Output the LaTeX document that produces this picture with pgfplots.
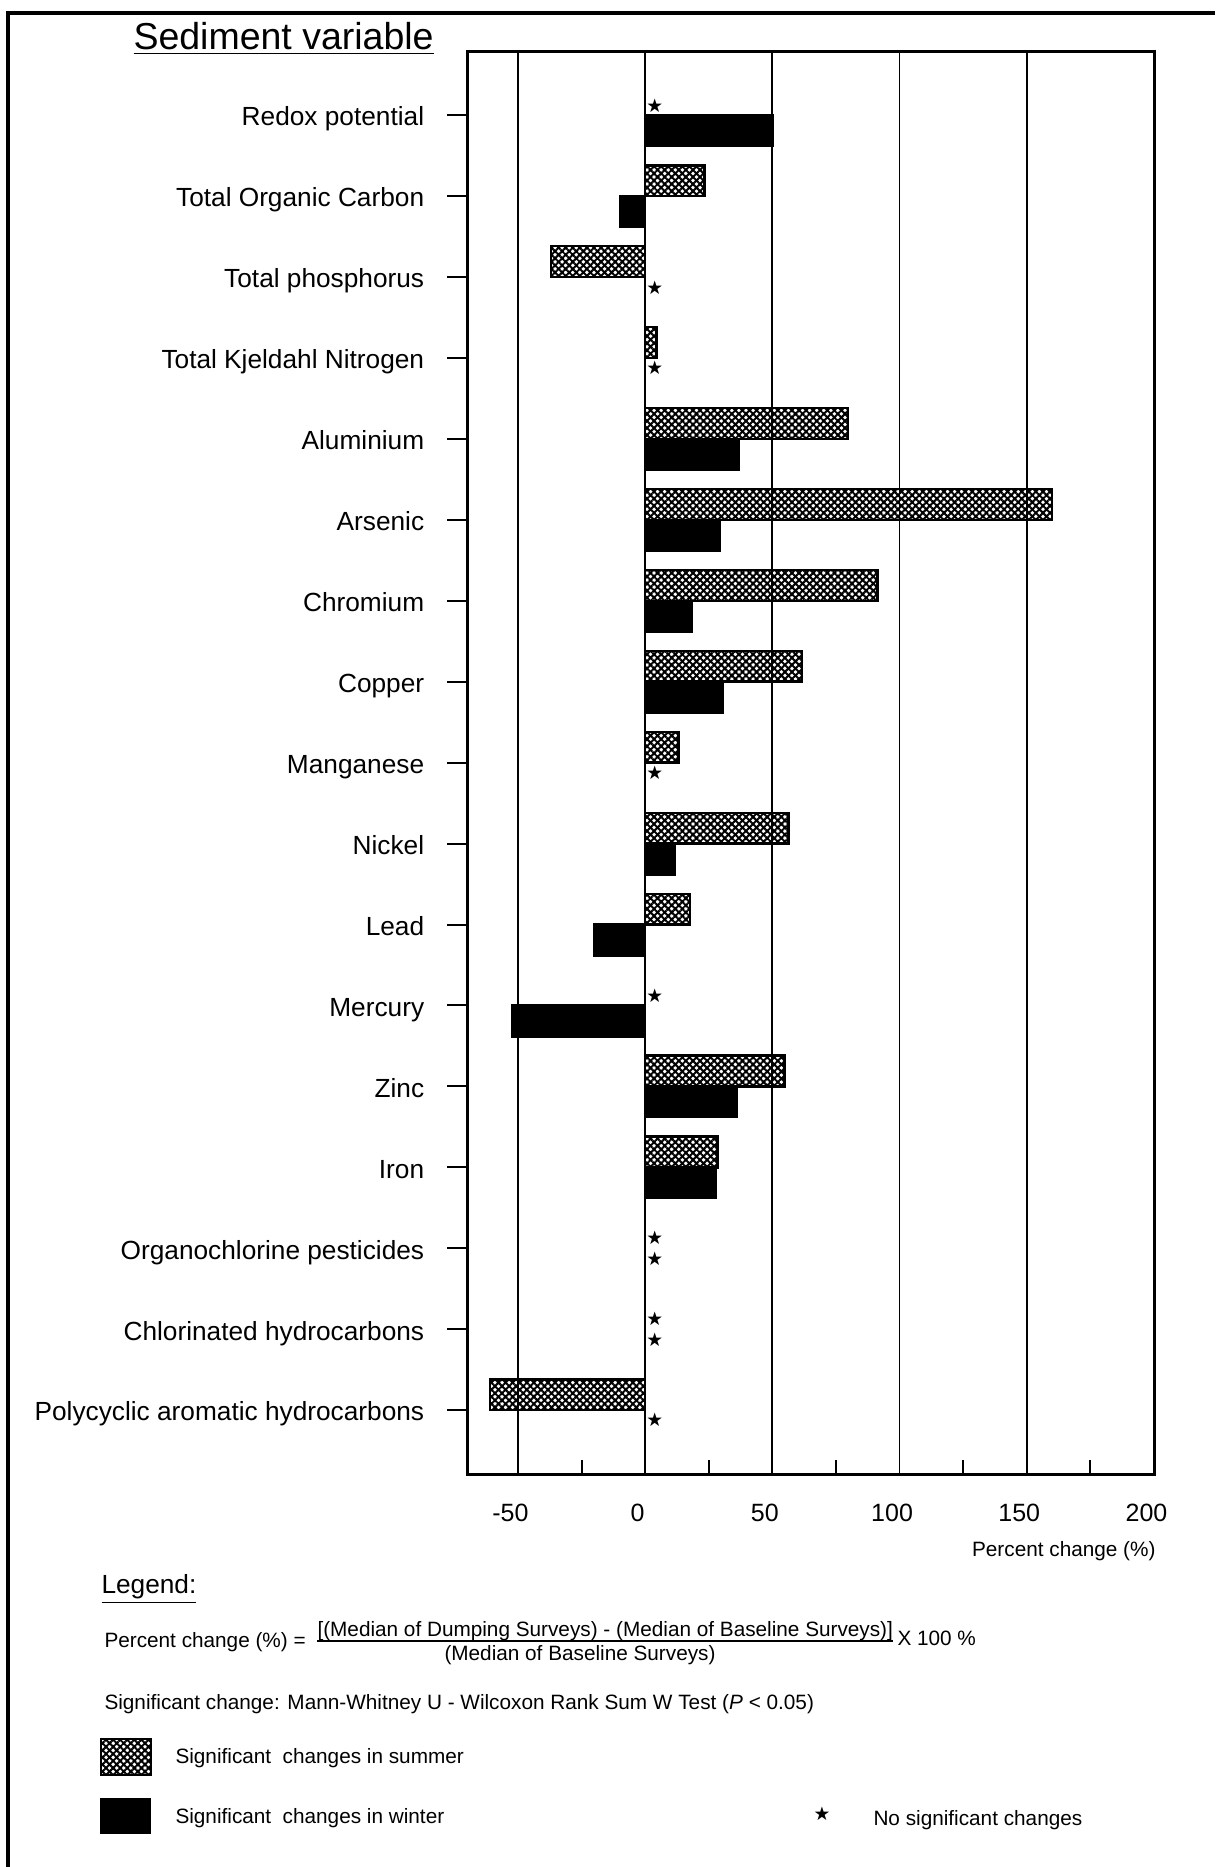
\documentclass[border=0pt]{standalone}
\usepackage{fontspec}
\setmainfont{Liberation Sans}
\newfontfamily\dejavu{DejaVu Sans}
\usepackage{pgfplots}
\pgfplotsset{compat=1.18}
\usetikzlibrary{patterns.meta}
\newcommand{\sigstar}{{\dejavu\fontsize{7.5}{7.5}\selectfont ★}}
\begin{document}
\begin{tikzpicture}[x=0.4pt,y=0.4pt]
\useasboundingbox (0,0) rectangle (1215,1867);
\draw[line width=1.6pt] (8,0) -- (8,1854) -- (1215,1854);
\begin{axis}[
  at={(186.8pt,156.8pt)}, anchor=south west,
  scale only axis, width=274.8pt, height=569.2pt,
  xbar, bar width=0.38,
  xmin=-70, xmax=200, ymin=-0.80, ymax=16.78,
  xtick={-50,0,50,100,150,200},
  minor xtick={-25,25,75,125,175},
  ytick={0,...,16},
  yticklabels={Polycyclic aromatic hydrocarbons, Chlorinated hydrocarbons, Organochlorine pesticides, Iron, Zinc, Mercury, Lead, Nickel, Manganese, Copper, Chromium, Arsenic, Aluminium, Total Kjeldahl Nitrogen, Total phosphorus, Total Organic Carbon, Redox potential},
  tick pos=left, tick align=outside,
  major tick length=8pt, minor tick length=6pt,
  every major x tick/.append style={draw=none},
  every minor x tick/.append style={black, line width=0.8pt, yshift=6pt},
  every y tick/.append style={black, line width=0.8pt},
  xmajorgrids, major grid style={black, line width=0.7pt},
  axis line style={line width=1.2pt},
  /pgf/number format/assume math mode=true,
  xticklabel style={font=\fontsize{10}{12}\selectfont, xshift=-3pt},
  yticklabel style={font=\fontsize{10.5}{12}\selectfont, anchor=base east, xshift=-5.6pt, yshift=-4.3pt},
]
\addplot[pattern={Hatch[angle=45,distance=2pt,line width=0.8pt]}, pattern color=black, draw=black, line width=1pt, bar shift=0.19]
  coordinates {(23.3,15) (-37,14) (4.5,13) (79.8,12) (159.9,11) (91.4,10) (61.7,9) (13.1,8) (56.3,7) (17.7,6) (54.7,4) (28.5,3) (-60.9,0)};
\addplot[fill=black, draw=black, line width=1pt, bar shift=-0.19]
  coordinates {(50,16) (-9.9,15) (36.7,12) (29.2,11) (18.5,10) (30.6,9) (11.6,7) (-19.8,6) (-52.1,5) (35.9,4) (27.7,3)};
\addplot[sharp plot, mark=none, black, line width=1pt, forget plot] coordinates {(0,-0.8) (0,16.78)};
% no significant change: summer (above tick) and winter (below tick)
\addplot[only marks, mark=text, text mark={\sigstar}, forget plot]
  coordinates {(3.8,16.12) (3.8,5.12) (3.8,2.13) (3.8,1.13)};
\addplot[only marks, mark=text, text mark={\sigstar}, forget plot]
  coordinates {(3.8,13.87) (3.8,12.88) (3.8,7.88) (3.8,1.87) (3.8,0.87) (3.8,-0.12)};
\end{axis}
\node[anchor=base west, inner sep=0, font=\fontsize{15}{18}\selectfont] at (133,1817) {\underline{Sediment variable}};
\node[anchor=base east, inner sep=0, font=\fontsize{8.3}{10}\selectfont] at (1156,310) {Percent change (\%)};
\begin{scope}[every node/.style={anchor=base west, inner sep=0, font=\fontsize{8.3}{10}\selectfont}]
\node[font=\fontsize{10.5}{12}\selectfont] at (101,273) {\underline{Legend:}};
\node at (104,219) {Percent change (\%) =};
\node at (317,230) {[(Median of Dumping Surveys) - (Median of Baseline Surveys)]};
\node at (444,206) {(Median of Baseline Surveys)};
\node at (897,221) {X 100 \%};
\node at (104,157) {Significant change: Mann-Whitney U - Wilcoxon Rank Sum W Test (\textit{P} < 0.05)};
\node at (175,103) {Significant\ \ changes in summer};
\node at (175,44) {Significant\ \ changes in winter};
\node at (873,42) {No significant changes};
\end{scope}
\draw[line width=0.6pt] (317,226) -- (893,226);
\draw[pattern={Hatch[angle=45,distance=2pt,line width=0.8pt]}, pattern color=black, line width=1pt] (101,92) rectangle (151,128);
\fill[black] (100,33) rectangle (151,69);
\node[inner sep=0] at (822,53) {\sigstar};
\end{tikzpicture}
\end{document}
